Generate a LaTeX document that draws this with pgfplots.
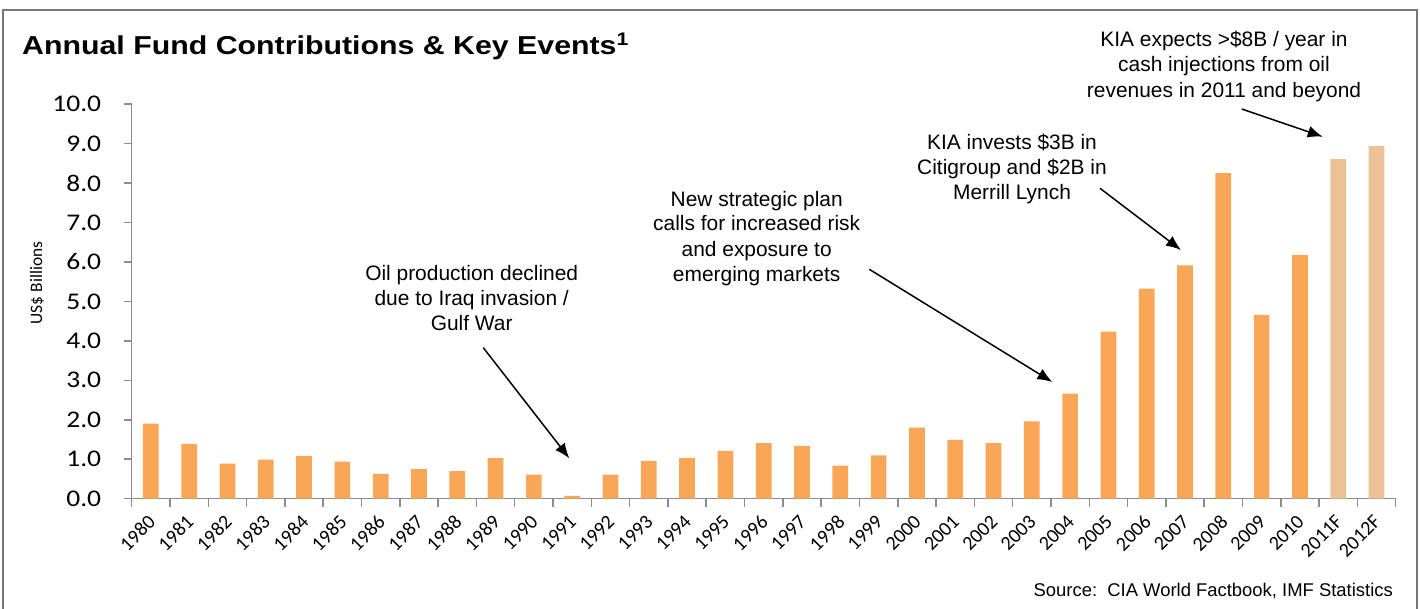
\documentclass[border=0pt]{standalone}
\usepackage{pgfplots}
\pgfplotsset{compat=1.18}
\usepackage{pgfplotstable}
\usepackage{fontspec}
\setmainfont{Liberation Sans}
\newfontfamily\calibri{Carlito}
\newfontfamily\calibriwide[FakeStretch=1.15]{Carlito}
\newfontfamily\titlefont[FakeStretch=1.17]{Liberation Sans}
\usetikzlibrary{arrows.meta}
\definecolor{barorange}{RGB}{249,167,86}
\definecolor{barfc}{RGB}{236,193,150}
\definecolor{axgray}{RGB}{140,140,140}
\definecolor{framegray}{RGB}{120,120,120}

\pgfplotstableread{
x y
0 1.90
1 1.39
2 0.89
3 0.99
4 1.08
5 0.94
6 0.63
7 0.75
8 0.70
9 1.03
10 0.61
11 0.07
12 0.61
13 0.96
14 1.03
15 1.21
16 1.41
17 1.34
18 0.84
19 1.10
20 1.80
21 1.49
22 1.41
23 1.96
24 2.66
25 4.23
26 5.32
27 5.91
28 8.25
29 4.66
30 6.18
}\actual

\pgfplotstableread{
x y
31 8.60
32 8.93
}\forecast

\begin{document}
\begin{tikzpicture}[x=1bp,y=1bp]

\begin{axis}[
  at={(0,0)}, anchor=origin,
  scale only axis, width=1264bp, height=394.7bp,
  xmin=-0.5, xmax=32.5, ymin=0, ymax=10,
  axis x line=bottom, axis y line=left,
  axis line style={axgray, line width=1.5bp, -},
  tick style={axgray, line width=1.5bp},
  tick align=outside, major tick length=8bp,
  ytick={0,1,...,10},
  /pgf/number format/assume math mode=true,
  yticklabel style={font=\calibriwide\fontsize{24}{24}\selectfont, xshift=-19bp, /pgf/number format/.cd, fixed, fixed zerofill, precision=1},
  xtick={-0.5,0.5,1.5,2.5,3.5,4.5,5.5,6.5,7.5,8.5,9.5,10.5,11.5,12.5,13.5,14.5,15.5,16.5,17.5,18.5,19.5,20.5,21.5,22.5,23.5,24.5,25.5,26.5,27.5,28.5,29.5,30.5,31.5,32.5},
  xticklabels={},
  extra x ticks={0,1,...,32},
  extra x tick labels={1980,1981,1982,1983,1984,1985,1986,1987,1988,1989,1990,1991,1992,1993,1994,1995,1996,1997,1998,1999,2000,2001,2002,2003,2004,2005,2006,2007,2008,2009,2010,2011F,2012F},
  extra x tick style={major tick length=0pt},
  xticklabel style={xshift=-4bp, yshift=-15bp, font=\calibri\fontsize{20}{20}\selectfont, rotate=45, anchor=north east, inner sep=0pt},
  clip=false,
]
\addplot[ybar, bar width=15.7bp, fill=barorange, draw=none] table {\actual};
\addplot[ybar, bar width=15.7bp, fill=barfc, draw=none] table {\forecast};
\end{axis}

\begin{scope}[shift={(-150.85,498.7)}, y=-1bp]
\draw[framegray, line width=2bp] (3,612) -- (3,10) -- (1417,10) -- (1417,612);
\node[anchor=base west, inner sep=0pt, font=\titlefont\bfseries\fontsize{26}{30}\selectfont] at (22,55) {Annual Fund Contributions \& Key Events\textsuperscript{1}};

\node[rotate=90, font=\calibri\fontsize{17.5}{20}\selectfont] at (37,283) {US\$ Billions};

\begin{scope}[font=\fontsize{21}{24}\selectfont, every node/.style={anchor=base, inner sep=0pt}]
\node at (1224,46.7) {KIA expects >\$8B / year in};
\node at (1224,72) {cash injections from oil};
\node at (1224,97.7) {revenues in 2011 and beyond};
\node at (1012,150) {KIA invests \$3B in};
\node at (1012,175) {Citigroup and \$2B in};
\node at (1012,200) {Merrill Lynch};
\node at (756.7,206.7) {New strategic plan};
\node at (756.7,230.7) {calls for increased risk};
\node at (756.7,256.7) {and exposure to};
\node at (756.7,281.7) {emerging markets};
\node at (471.7,281) {Oil production declined};
\node at (471.7,306) {due to Iraq invasion /};
\node at (471.7,331) {Gulf War};
\end{scope}

\node[anchor=base east, inner sep=0pt, font=\fontsize{18.5}{20}\selectfont] at (1393,596.7) {Source:\ \ CIA World Factbook, IMF Statistics};

\begin{scope}[-{Latex[length=15bp,width=12bp]}, line width=1.5bp]
\draw (483.3,347.7) -- (569.3,458.3);
\draw (869.3,269.3) -- (1052.3,382);
\draw (1100,188.3) -- (1181,250);
\draw (1241.7,109) -- (1322.7,136.7);
\end{scope}
\pgfresetboundingbox
\path[use as bounding box] (0,0) rectangle (1420,609);
\end{scope}
\end{tikzpicture}
\end{document}
